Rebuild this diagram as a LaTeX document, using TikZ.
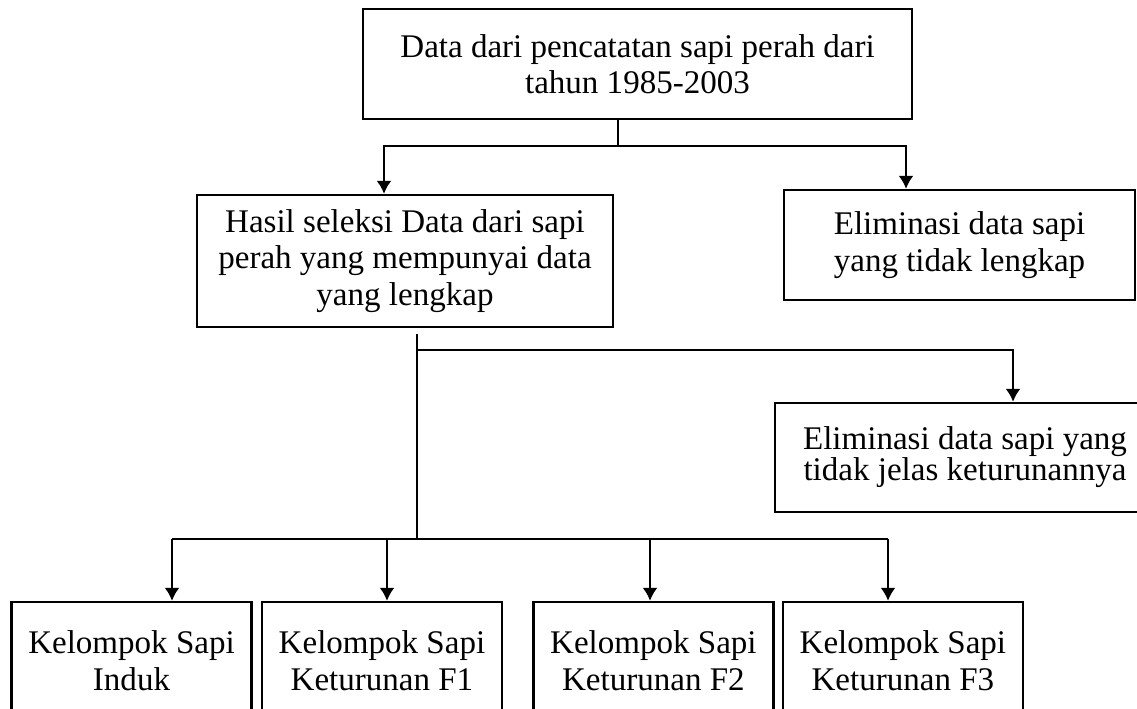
\documentclass[tikz,border=0pt]{standalone}
\usepackage{fontspec}
\setmainfont{Liberation Serif}
\usepackage{tikz}
\usetikzlibrary{arrows.meta,positioning,calc}
\tikzset{
  box/.style={draw=black, line width=.7pt, align=center, inner sep=0pt,
              font=\fontsize{9.4}{10.3}\selectfont},
  group/.style={box, minimum width=24mm, minimum height=11.8mm,
                font=\fontsize{9.4}{10.5}\selectfont},
  arrow/.style={-{Latex[length=1.3mm,width=1.5mm]}, line width=.6pt, draw=black},
  link/.style={line width=.6pt, draw=black}
}
\begin{document}
\begin{tikzpicture}[x=0.1mm, y=-0.1mm]
  \useasboundingbox (0,0) rectangle (1137,708);

  % source and first selection
  \node[box, minimum width=54.9mm, minimum height=11mm] (src) at (637.5,64)
    {Data dari pencatatan sapi perah dari\\tahun 1985-2003};
  \node[box, minimum width=41.6mm, minimum height=13.2mm] (sel) at (405,261)
    {Hasil seleksi Data dari sapi\\perah yang mempunyai data\\yang lengkap};
  \node[box, minimum width=35.1mm, minimum height=11mm] (elim1) at (959.5,245)
    {Eliminasi data sapi\\yang tidak lengkap};
  \node[box, minimum width=38mm, minimum height=10.9mm,
        font=\fontsize{9.4}{8.8}\selectfont] (elim2) at (965,457.5)
    {Eliminasi data sapi yang\\tidak jelas keturunannya};

  % groups
  \node[group] (grp1) at (131.5,661) {Kelompok Sapi\\Induk};
  \node[group, right=0.8mm of grp1] (grp2) {Kelompok Sapi\\Keturunan F1};
  \node[group, right=2.9mm of grp2] (grp3) {Kelompok Sapi\\Keturunan F2};
  \node[group, right=0.7mm of grp3] (grp4) {Kelompok Sapi\\Keturunan F3};

  % junctions
  \coordinate (j0) at (618,146);
  \coordinate (ja) at (384,146);
  \coordinate (jb) at (906,146);
  \coordinate (jc) at (417,350);
  \coordinate (jd) at (1013,350);
  \coordinate (je) at (417,539);
  \coordinate (k1) at (172,539);
  \coordinate (k2) at (387,539);
  \coordinate (k3) at (650,539);
  \coordinate (k4) at (888,539);

  \draw[link] (src.south -| j0) -- (j0);
  \draw[arrow] (j0) -- (ja) -- (ja |- sel.north);
  \draw[arrow] (j0) -- (jb) -- (jb |- elim1.north);
  \draw[link, shorten <=.6mm] (sel.south -| jc) -- (je);
  \draw[arrow] (jc) -- (jd) -- (jd |- elim2.north);
  \draw[link] (k1) -- (k4);
  \draw[arrow] (k1) -- (k1 |- grp1.north);
  \draw[arrow] (k2) -- (k2 |- grp2.north);
  \draw[arrow] (k3) -- (k3 |- grp3.north);
  \draw[arrow] (k4) -- (k4 |- grp4.north);
\end{tikzpicture}
\end{document}
